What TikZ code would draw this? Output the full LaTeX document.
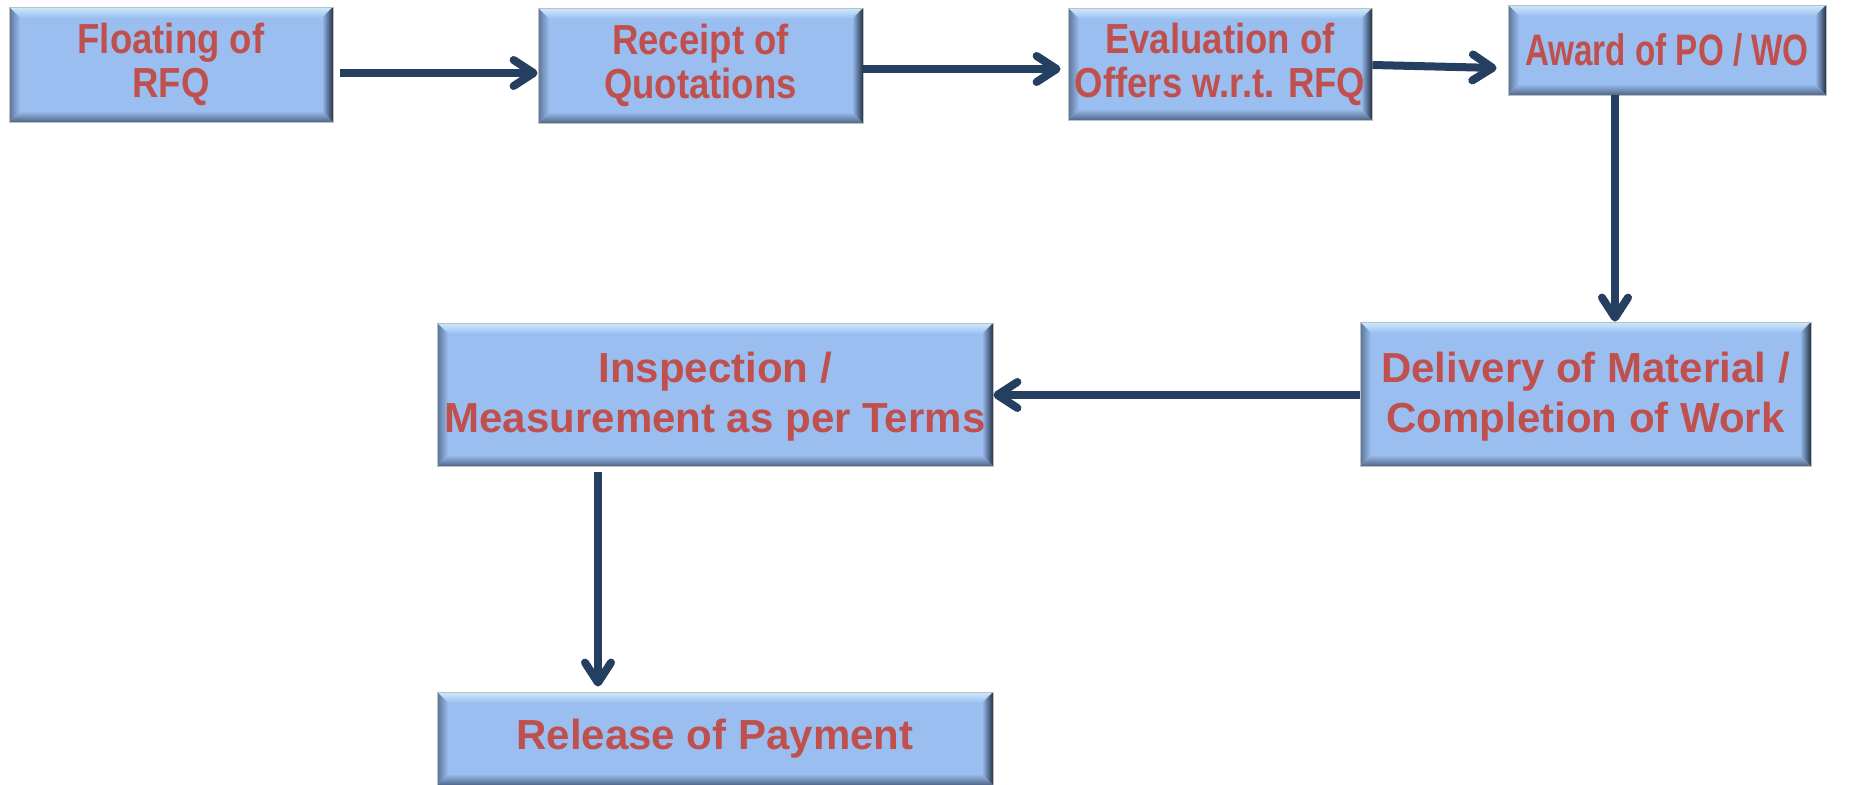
\documentclass[tikz,border=0pt]{standalone}
\usepackage{fontspec}
\setmainfont{Liberation Sans}
\newfontfamily\narrowsans{Liberation Sans}[FakeStretch=0.87]
\newfontfamily\tightsans{Liberation Sans}[FakeStretch=0.755]
\usetikzlibrary{arrows.meta,positioning}

\definecolor{boxfill}{RGB}{155,190,240}
\definecolor{bevtop}{RGB}{205,235,252}
\definecolor{bevleft}{RGB}{90,115,150}
\definecolor{bevbottom}{RGB}{80,102,135}
\definecolor{bevright}{RGB}{35,50,72}
\definecolor{labelred}{RGB}{192,80,77}
\definecolor{arrowblue}{RGB}{36,63,96}

\tikzset{
  stage/.style={rectangle, fill=boxfill, draw=gray!50, line width=0.4pt,
    inner sep=0pt, align=center, text=labelred,
    path picture={
      \coordinate (nw) at (path picture bounding box.north west);
      \coordinate (ne) at (path picture bounding box.north east);
      \coordinate (sw) at (path picture bounding box.south west);
      \coordinate (se) at (path picture bounding box.south east);
      \shade[top color=bevtop, bottom color=boxfill] (nw) -- (ne) -- ([shift={(-5.5pt,-5.5pt)}]ne) -- ([shift={(5.5pt,-5.5pt)}]nw) -- cycle;
      \shade[left color=bevleft, right color=boxfill] (nw) -- ([shift={(5.5pt,-5.5pt)}]nw) -- ([shift={(5.5pt,5.5pt)}]sw) -- (sw) -- cycle;
      \shade[bottom color=bevbottom, top color=boxfill] (sw) -- ([shift={(5.5pt,5.5pt)}]sw) -- ([shift={(-5.5pt,5.5pt)}]se) -- (se) -- cycle;
      \shade[right color=bevright, left color=boxfill] (se) -- ([shift={(-5.5pt,5.5pt)}]se) -- ([shift={(-5.5pt,-5.5pt)}]ne) -- (ne) -- cycle;
    }},
  toprow/.style={stage, font=\narrowsans\bfseries\fontsize{21}{22}\selectfont},
  lowrow/.style={stage, font=\bfseries\fontsize{21}{25}\selectfont},
  flow/.style={draw=arrowblue, line width=4pt, -{Straight Barb[round, length=10pt, width=13pt]}}
}

\begin{document}
\begin{tikzpicture}[x=0.5pt,y=-0.5pt]
\useasboundingbox (0,0) rectangle (1858,785);
% first row
\node[toprow, minimum width=162pt, minimum height=57.5pt] (float) at (171,64.5) {Floating of\\RFQ};
\node[toprow, minimum width=162.5pt, minimum height=57.5pt] (receipt) at (700.5,65.5) {Receipt of\\Quotations};
\node[toprow, minimum width=152pt, minimum height=56pt] (evaluate) at (1220,64) {Evaluation of\\Offers w.r.t. RFQ};
\node[toprow, font=\tightsans\bfseries\fontsize{22}{22}\selectfont, minimum width=159pt, minimum height=45pt] (award) at (1667,50) {Award of PO / WO};
% second row
\node[lowrow, minimum width=225.5pt, minimum height=72pt] (delivery) at (1585.5,394) {\strut Delivery of Material /\\Completion of Work};
\node[lowrow, minimum width=278pt, minimum height=71.5pt] (inspect) at (715,394.5) {\strut Inspection /\\Measurement as per Terms};
% last
\node[lowrow, minimum width=278pt, minimum height=46.5pt] (release) at (715,738.5) {Release of Payment};
\begin{scope}[every path/.style={flow}]
\draw ([shift={(3.5pt,-4.25pt)}]float.east) -- ([yshift=-3.75pt]receipt.west);
\draw ([yshift=-1.75pt]receipt.east) -- ([shift={(-3.5pt,-2.5pt)}]evaluate.west);
\draw ([yshift=-0.5pt]evaluate.east) -- ([shift={(-5.5pt,-9pt)}]award.west);
\draw ([xshift=-26pt]award.south) -- ([xshift=14.75pt]delivery.north);
\draw ([yshift=-0.5pt]delivery.west) -- ([yshift=-0.25pt]inspect.east);
\draw ([shift={(-58.5pt,-3pt)}]inspect.south) -- ([shift={(-58.5pt,2.5pt)}]release.north);
\end{scope}
\end{tikzpicture}
\end{document}
